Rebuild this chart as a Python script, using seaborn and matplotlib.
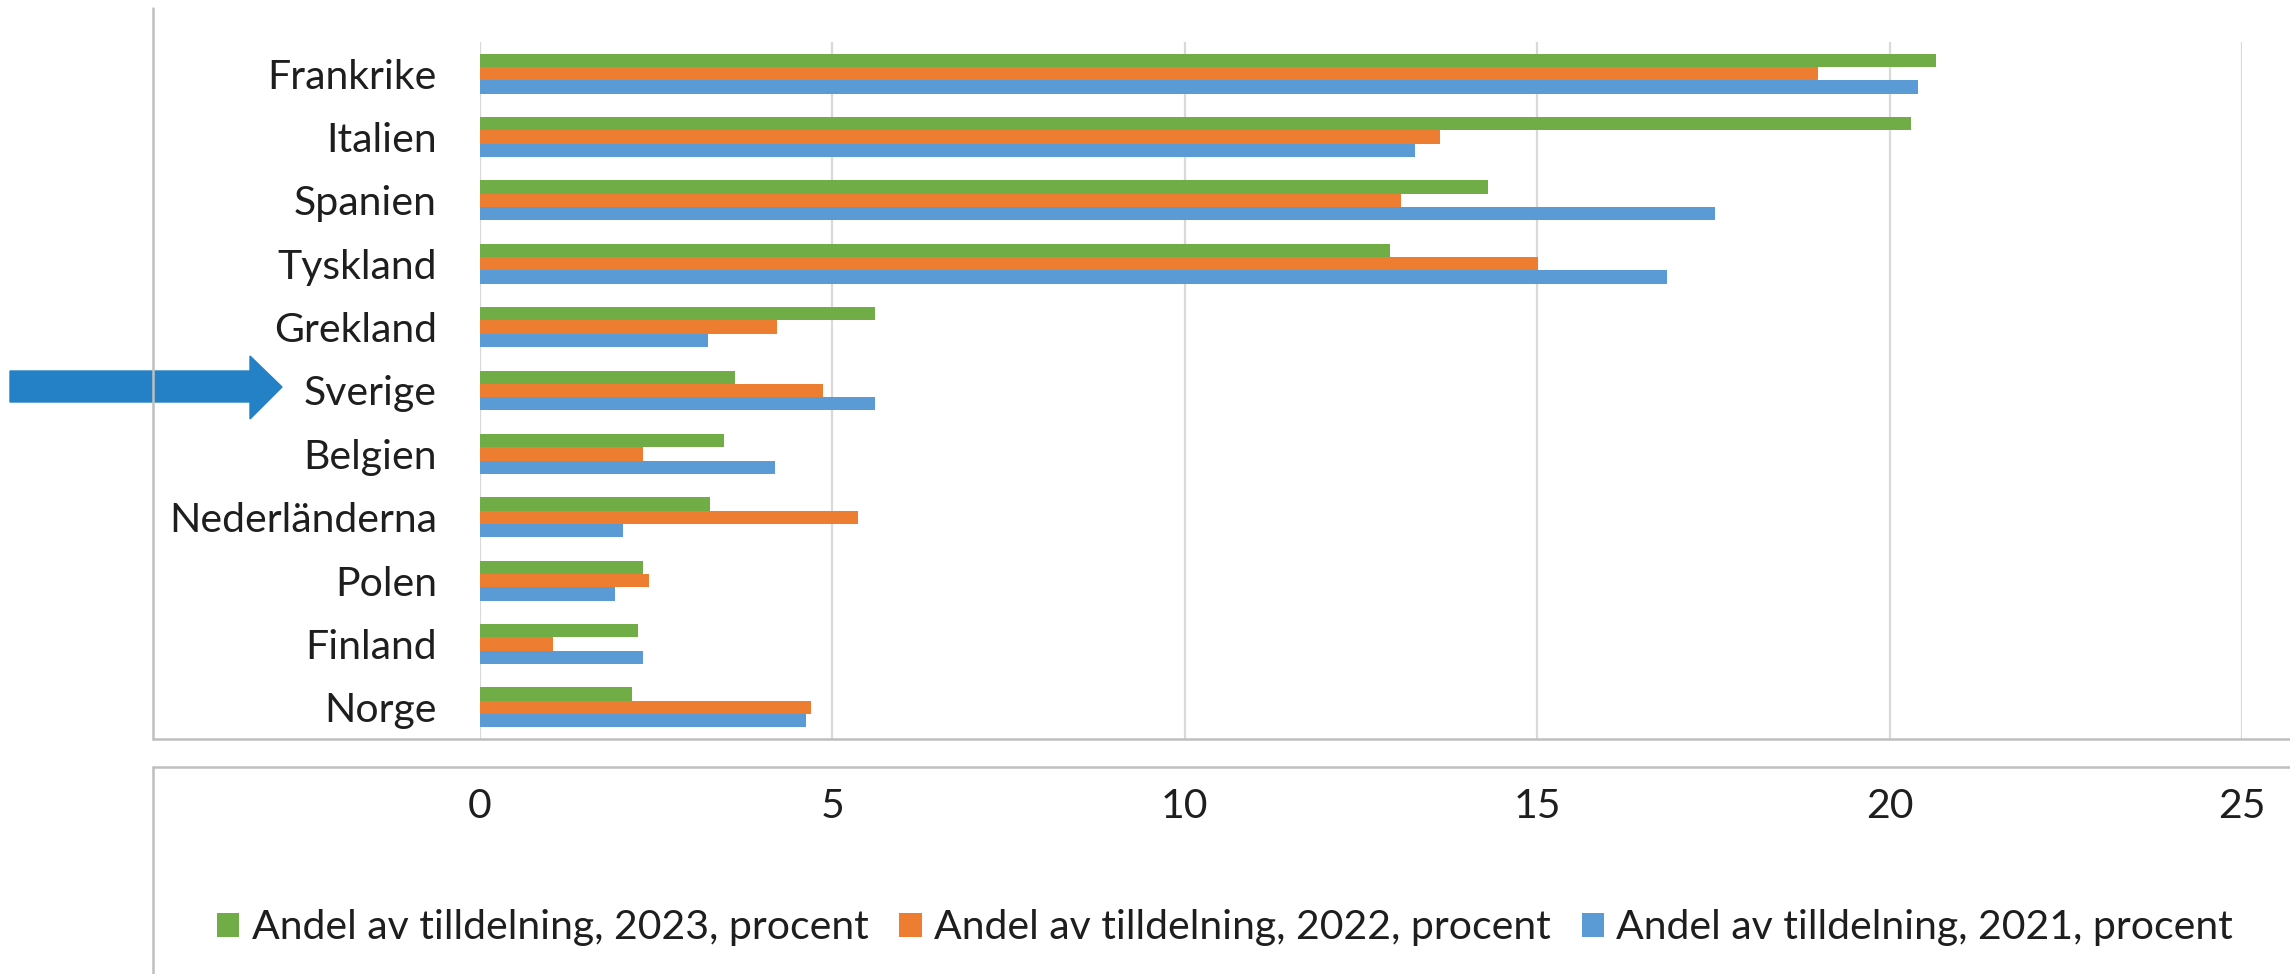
import pandas as pd
import matplotlib.pyplot as plt
import numpy as np
import seaborn as sns
from matplotlib.patches import Polygon
from matplotlib.lines import Line2D

lander = ["Frankrike", "Italien", "Spanien", "Tyskland", "Grekland", "Sverige",
          "Belgien", "Nederländerna", "Polen", "Finland", "Norge"]
andel_2023 = [20.66, 20.30, 14.30, 12.91, 5.61, 3.62, 3.46, 3.27, 2.31, 2.24, 2.16]
andel_2022 = [18.98, 13.62, 13.07, 15.01, 4.22, 4.86, 2.31, 5.37, 2.40, 1.04, 4.70]
andel_2021 = [20.41, 13.27, 17.52, 16.84, 3.23, 5.61, 4.18, 2.03, 1.92, 2.31, 4.62]
serier = ["Andel av tilldelning, 2023, procent",
          "Andel av tilldelning, 2022, procent",
          "Andel av tilldelning, 2021, procent"]
xticks = [0, 5, 10, 15, 20, 25]

df = pd.concat([
    pd.DataFrame({"land": lander, "andel": v, "serie": s})
    for v, s in zip([andel_2023, andel_2022, andel_2021], serier)
])

sns.set_style("white")
plt.rcParams["font.family"] = ["Lato", "DejaVu Sans"]

W, H = 2290, 974
fig = plt.figure(figsize=(W / 100, H / 100), dpi=100)
ax = fig.add_axes([480 / W, 1 - 739 / H, (2242 - 480) / W, (739 - 42) / H])

sns.barplot(data=df, y="land", x="andel", hue="serie", hue_order=serier,
            palette=["#70AD47", "#ED7D31", "#5B9BD5"], width=0.63,
            saturation=1, orient="h", linewidth=0, ax=ax)

ax.set_xlim(0, 25)
ax.set_xticks(xticks)
ax.set_xlabel("")
ax.set_ylabel("")
for v in xticks:
    ax.axvline(v, color="#D9D9D9", lw=1.6, zorder=0)
for s in ax.spines.values():
    s.set_visible(False)
ax.tick_params(axis="x", length=0, pad=35, labelsize=29.5, labelcolor="#1e1e1e")
ax.tick_params(axis="y", length=0, pad=31, labelsize=29.5, labelcolor="#1e1e1e")

handles, labels = ax.get_legend_handles_labels()
ax.get_legend().remove()
for h in handles:
    h.set_linewidth(0)
fig.legend(handles, labels, loc="center", bbox_to_anchor=(1225 / W, 1 - 928 / H),
           ncol=3, frameon=False, fontsize=29.5, handlelength=0.55, handleheight=0.55,
           handletextpad=0.3, columnspacing=0.75, labelcolor="#1e1e1e")

# ramar runt diagramytan och axel/legend-delen
ram = "#BFBFBF"
fig.add_artist(Line2D([153 / W, 153 / W], [1 - 8 / H, 1 - 739 / H], color=ram, lw=1.8))
fig.add_artist(Line2D([153 / W, 1], [1 - 739 / H, 1 - 739 / H], color=ram, lw=1.8))
fig.add_artist(Line2D([153 / W, 153 / W], [1 - 767 / H, 0], color=ram, lw=1.8))
fig.add_artist(Line2D([153 / W, 1], [1 - 767 / H, 1 - 767 / H], color=ram, lw=1.8))

# pil mot Sverige
pil = np.array([[10, 371], [250, 371], [250, 356], [282, 387],
                [250, 419], [250, 402], [10, 402]], dtype=float)
pil[:, 0] /= W
pil[:, 1] = 1 - pil[:, 1] / H
fig.add_artist(Polygon(pil, closed=True, color="#2481C6", transform=fig.transFigure))

fig.savefig("out.png", dpi=100)
